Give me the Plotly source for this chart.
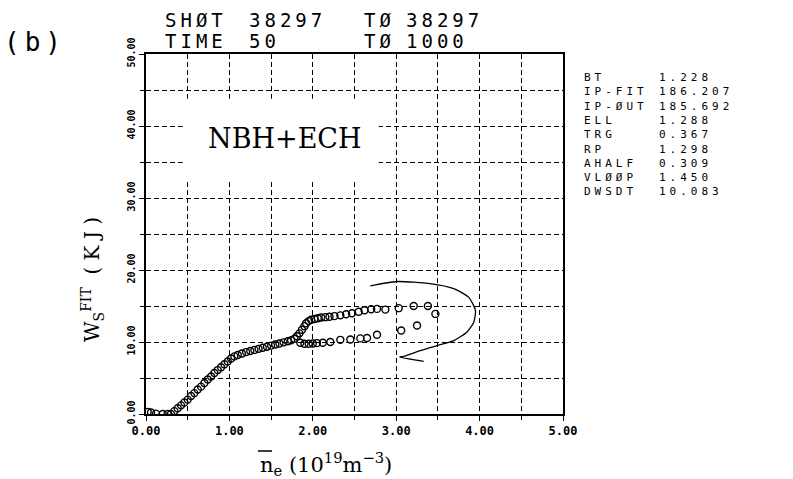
import plotly.graph_objects as go

# ---------------- data ----------------
TAIL_X = [0.02, 0.06, 0.12, 0.20, 0.26]
TAIL_Y = [0.3, 0.2, 0.05, 0.0, 0.0]

RISE_X = [0.30, 0.34, 0.38, 0.42, 0.46, 0.50, 0.54, 0.58, 0.62, 0.66, 0.70, 0.74, 0.78,
          0.82, 0.86, 0.90, 0.94, 0.98, 1.02, 1.06, 1.10, 1.15, 1.20, 1.25, 1.30, 1.35,
          1.40, 1.45, 1.50, 1.55, 1.60, 1.65, 1.70, 1.74, 1.78, 1.81, 1.84, 1.87, 1.90]
RISE_Y = [0.0, 0.4, 0.8, 1.2, 1.6, 2.0, 2.5, 2.9, 3.4, 3.8, 4.3, 4.8, 5.2,
          5.7, 6.1, 6.5, 6.9, 7.3, 7.7, 8.0, 8.2, 8.4, 8.6, 8.75, 8.9, 9.05,
          9.2, 9.35, 9.5, 9.65, 9.8, 9.95, 10.1, 10.25, 10.45, 10.8, 11.2, 11.7, 12.2]

UPPER_X = [1.92, 1.95, 1.98, 2.02, 2.06, 2.10, 2.15, 2.20, 2.26, 2.33, 2.40, 2.47,
           2.55, 2.62, 2.70, 2.77, 2.87, 3.03, 3.21, 3.38, 3.47]
UPPER_Y = [12.6, 12.9, 13.1, 13.2, 13.3, 13.4, 13.45, 13.5, 13.6, 13.7, 13.85, 14.0,
           14.2, 14.4, 14.55, 14.6, 14.5, 14.7, 15.0, 15.0, 13.9]

LOWER_X = [3.25, 3.06, 2.77, 2.65, 2.57, 2.45, 2.33, 2.21, 2.12, 2.05, 2.00, 1.95, 1.90, 1.85]
LOWER_Y = [12.3, 11.6, 11.0, 10.55, 10.5, 10.35, 10.3, 10.0, 9.9, 9.85, 9.8, 9.75, 9.75, 9.9]

ARROW_X = [2.69, 3.01, 3.41, 3.69, 3.87, 3.95, 3.93, 3.85, 3.69, 3.49, 3.29, 3.09, 3.04, 3.33]
ARROW_Y = [17.8, 18.4, 18.1, 17.4, 16.2, 14.4, 12.75, 11.4, 10.2, 9.5, 8.8, 8.0, 7.9, 7.3]

X_TICKS = [0, 1, 2, 3, 4, 5]
X_TICK_LABELS = ["0.00", "1.00", "2.00", "3.00", "4.00", "5.00"]
Y_TICKS = [0, 10, 20, 30, 40, 50]
Y_TICK_LABELS = ["0.00", "10.00", "20.00", "30.00", "40.00", "50.00"]

PARAM_NAMES = ["BT", "IP-FIT", "IP-ØUT", "ELL", "TRG", "RP", "AHALF", "VLØØP", "DWSDT"]
PARAM_VALUES = ["1.228", "186.207", "185.692", "1.288", "0.367", "1.298", "0.309", "1.450", "10.083"]

HEADER_ROW1 = ["SHØT", "38297", "TØ", "38297"]
HEADER_ROW2 = ["TIME", "50", "TØ", "1000"]

# ---------------- geometry helpers (layout only) ----------------
W, H = 793, 479
L, R, T, B = 146, 563, 54, 414


def px(x):
    return (x - L) / (R - L)


def py(y):
    return (B - y) / (B - T)


MONO = "DejaVu Sans Mono"
SERIF = "DejaVu Serif"

fig = go.Figure()

marker = dict(symbol="circle-open", size=7, color="black", line=dict(width=1.4, color="black"))
for xs, ys in [(TAIL_X, TAIL_Y), (RISE_X, RISE_Y), (UPPER_X, UPPER_Y), (LOWER_X, LOWER_Y)]:
    fig.add_trace(go.Scatter(x=xs, y=ys, mode="markers", marker=marker,
                             showlegend=False, hoverinfo="skip"))

fig.add_trace(go.Scatter(x=ARROW_X, y=ARROW_Y, mode="lines",
                         line=dict(color="black", width=1.3, shape="spline", smoothing=0.6),
                         showlegend=False, hoverinfo="skip"))

grid = dict(showgrid=True, gridcolor="black", gridwidth=1.2, griddash="5px,3px")

fig.update_xaxes(range=[0, 5], tickvals=X_TICKS, ticktext=X_TICK_LABELS,
                 showline=True, linecolor="black", linewidth=2, mirror=True,
                 ticks="outside", ticklen=5, tickcolor="black", tickwidth=1.2,
                 zeroline=False,
                 tickfont=dict(family=MONO, size=12, color="black", weight="bold"),
                 minor=dict(dtick=0.5, ticks="outside", ticklen=4, tickcolor="black",
                            showgrid=True, gridcolor="black", gridwidth=1.2, griddash="5px,3px"),
                 **grid)
fig.update_yaxes(range=[0, 50], tickvals=Y_TICKS, ticktext=Y_TICK_LABELS, tickangle=-90,
                 showline=True, linecolor="black", linewidth=2, mirror=True,
                 ticks="outside", ticklen=5, tickcolor="black", tickwidth=1.2,
                 zeroline=False,
                 tickfont=dict(family=MONO, size=10, color="black", weight="bold"),
                 minor=dict(dtick=5, ticks="outside", ticklen=4, tickcolor="black",
                            showgrid=True, gridcolor="black", gridwidth=1.2, griddash="5px,3px"),
                 **grid)

# white box that interrupts the grid behind the label
fig.add_shape(type="rect", xref="x", yref="y", x0=0.44, x1=2.79, y0=32.3, y1=43.8,
              fillcolor="white", line=dict(width=0), layer="between")
# overline of the density symbol (decoration of the axis title)
fig.add_shape(type="line", xref="paper", yref="paper", x0=px(258), x1=px(272),
              y0=py(451), y1=py(451), line=dict(color="black", width=1.5))

ann = []


def text(x, y, t, font, xa="center", ya="middle", **kw):
    ann.append(dict(x=px(x), y=py(y), xref="paper", yref="paper", text=t,
                    showarrow=False, xanchor=xa, yanchor=ya, font=font, **kw))


text(285, 138, "NBH+ECH", dict(family=SERIF, size=27, color="black"))

# header
ls = "letter-spacing:4px"
hx = [163, 247, 362, 404]
hfont = dict(family=MONO, size=19, color="black")
for i, t in enumerate(HEADER_ROW1):
    text(hx[i], 20, f"<span style='{ls}'>{t}</span>", hfont, xa="left")
for i, t in enumerate(HEADER_ROW2):
    text(hx[i], 41, f"<span style='{ls}'>{t}</span>", hfont, xa="left")

text(2, 42, "<span style='letter-spacing:5px'>(b)</span>",
     dict(family=MONO, size=26, color="black"), xa="left")

# parameter panel (one block per column)
pfont = dict(family=MONO, size=11, color="black")
names = "<br>".join(f"<span style='letter-spacing:4px'>{n}</span>" for n in PARAM_NAMES)
vals = "<br>".join(f"<span style='letter-spacing:4px'>{v}</span>" for v in PARAM_VALUES)
text(582, 69, names, pfont, xa="left", ya="top", align="left")
text(657, 69, vals, pfont, xa="left", ya="top", align="left")

# axis titles
text(92, 280, "W<sub>S</sub><sup>FIT</sup>  ( K J )",
     dict(family=SERIF, size=20, color="black"), textangle=-90)
text(258, 464, "n<sub>e</sub> (10<sup>19</sup>m<sup>−3</sup>)",
     dict(family=SERIF, size=21, color="black"), xa="left")

fig.update_layout(width=W, height=H, margin=dict(l=L, r=W - R, t=T, b=H - B),
                  paper_bgcolor="white", plot_bgcolor="white",
                  annotations=ann, showlegend=False)

fig.write_html("out.html")
